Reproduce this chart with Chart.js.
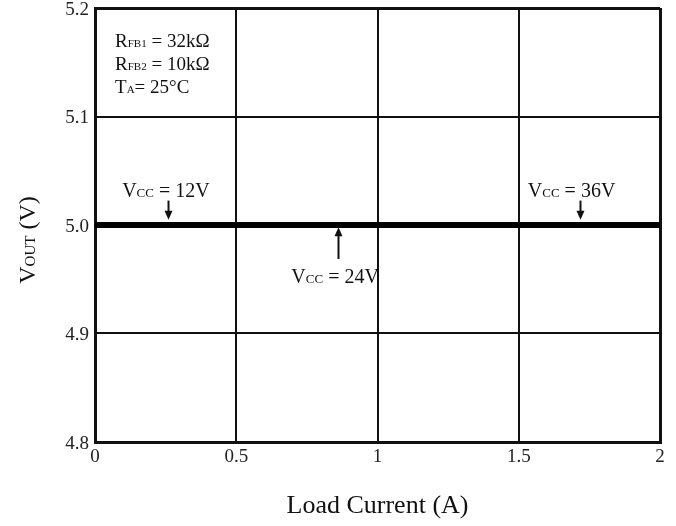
<!DOCTYPE html>
<html>
<head>
<meta charset="utf-8">
<script src="https://cdn.jsdelivr.net/npm/chart.js@4/dist/chart.umd.min.js"></script>
<style>
  html, body { margin: 0; padding: 0; background: #fff; }
  #wrap { width: 676px; height: 526px; }
</style>
</head>
<body>
<div id="wrap"><canvas id="chart" width="676" height="526"></canvas></div>
<script>
// --- DATA ---
const currents = [0, 0.5, 1, 1.5, 2];
const vout12 = [5.0, 5.0, 5.0, 5.0, 5.0];
const vout24 = [5.0, 5.0, 5.0, 5.0, 5.0];
const vout36 = [5.0, 5.0, 5.0, 5.0, 5.0];
const xTicks = [0, 0.5, 1, 1.5, 2];
const yTicks = [4.8, 4.9, 5.0, 5.1, 5.2];

// labels for the Vcc curves (data units, text baseline)
const vccNames = ['12V', '24V', '36V'];
const vccTextX = [0.251, 0.850, 1.687];
const vccTextY = [5.0258, 4.9465, 5.0258];
const arrowX = [0.259, 0.860, 1.717];
const arrowTail = [5.0225, 4.9687, 5.0225];
const arrowTip = [5.0048, 4.9980, 5.0048];

// conditions box (baselines)
const condLines = [
  [['R', 19], ['FB1', 11], [' = 32kΩ', 19]],
  [['R', 19], ['FB2', 11], [' = 10kΩ', 19]],
  [['T', 19], ['A', 11], ['= 25°C', 19]]
];
const condX = 0.071;
const condY = [5.1643, 5.1431, 5.1219];

const FONT = '"Liberation Serif", "Times New Roman", serif';

function toPoints(ys) {
  return currents.map((x, i) => ({ x: x, y: ys[i] }));
}

// draws mixed-size text (big letter + small subscript) on one baseline
function richText(ctx, parts, x, y, align) {
  let total = 0;
  parts.forEach(p => {
    ctx.font = p[1] + 'px ' + FONT;
    total += ctx.measureText(p[0]).width;
  });
  let cx = align === 'center' ? x - total / 2 : x;
  ctx.textAlign = 'left';
  ctx.textBaseline = 'alphabetic';
  parts.forEach(p => {
    ctx.font = p[1] + 'px ' + FONT;
    ctx.fillText(p[0], cx, y);
    cx += ctx.measureText(p[0]).width;
  });
}

const annotations = {
  id: 'annotations',
  afterDraw(chart) {
    const ctx = chart.ctx;
    const xs = chart.scales.x, ys = chart.scales.y;
    ctx.save();
    ctx.fillStyle = '#111';
    ctx.strokeStyle = '#111';

    // Vcc labels with arrows
    vccNames.forEach((name, i) => {
      const tx = xs.getPixelForValue(vccTextX[i]);
      const ty = ys.getPixelForValue(vccTextY[i]);
      richText(ctx, [['V', 20], ['CC', 13], [' = ' + name, 20]], tx, ty, 'center');

      const ax = Math.round(xs.getPixelForValue(arrowX[i])) + 0.5;
      const y0 = ys.getPixelForValue(arrowTail[i]);
      const y1 = ys.getPixelForValue(arrowTip[i]);
      const dir = y1 > y0 ? 1 : -1;
      ctx.lineWidth = 2;
      ctx.beginPath();
      ctx.moveTo(ax, y0);
      ctx.lineTo(ax, y1 - dir * 4);
      ctx.stroke();
      ctx.beginPath();
      ctx.moveTo(ax, y1);
      ctx.lineTo(ax - 4, y1 - dir * 9);
      ctx.lineTo(ax + 4, y1 - dir * 9);
      ctx.closePath();
      ctx.fill();
    });

    // conditions
    condLines.forEach((parts, i) => {
      richText(ctx, parts, xs.getPixelForValue(condX), ys.getPixelForValue(condY[i]), 'left');
    });

    // y axis title: V_OUT (V)
    ctx.translate(35, 240);
    ctx.rotate(-Math.PI / 2);
    richText(ctx, [['V', 24], ['OUT', 15], [' (V)', 24]], 0, 0, 'center');
    ctx.restore();
  }
};

const edgeWidth = ctx => (ctx.index === 0 || ctx.index === 4) ? 3 : 2;

const lineStyle = { borderColor: '#000', borderWidth: 6, pointRadius: 0, fill: false, tension: 0 };

new Chart(document.getElementById('chart'), {
  type: 'line',
  data: {
    datasets: [
      Object.assign({ label: 'VCC = 12V', data: toPoints(vout12) }, lineStyle),
      Object.assign({ label: 'VCC = 24V', data: toPoints(vout24) }, lineStyle),
      Object.assign({ label: 'VCC = 36V', data: toPoints(vout36) }, lineStyle)
    ]
  },
  options: {
    responsive: false,
    animation: false,
    devicePixelRatio: 1,
    layout: { padding: { top: 8, right: 16, left: 0, bottom: 0 } },
    plugins: { legend: { display: false }, tooltip: { enabled: false } },
    scales: {
      x: {
        type: 'linear',
        min: 0,
        max: 2,
        afterBuildTicks: s => { s.ticks = xTicks.map(v => ({ value: v })); },
        afterFit: s => { s.height = 84; s.paddingLeft = 0; s.paddingRight = 0; },
        ticks: {
          color: '#222',
          font: { family: FONT, size: 19 },
          padding: 4,
          maxRotation: 0,
          callback: v => String(v)
        },
        grid: { color: '#111', lineWidth: edgeWidth, drawTicks: false },
        border: { color: '#111', width: 3 },
        title: {
          display: true,
          text: 'Load Current (A)',
          color: '#111',
          font: { family: FONT, size: 26 },
          padding: { top: 4, bottom: 4 }
        }
      },
      y: {
        type: 'linear',
        min: 4.8,
        max: 5.2,
        afterBuildTicks: s => { s.ticks = yTicks.map(v => ({ value: v })); },
        afterFit: s => { s.width = 95; s.paddingTop = 0; s.paddingBottom = 0; },
        ticks: {
          color: '#222',
          font: { family: FONT, size: 19 },
          padding: 6,
          labelOffset: 2,
          callback: v => v.toFixed(1)
        },
        grid: { color: '#111', lineWidth: edgeWidth, drawTicks: false },
        border: { color: '#111', width: 3 }
      }
    }
  },
  plugins: [annotations]
});
</script>
</body>
</html>
